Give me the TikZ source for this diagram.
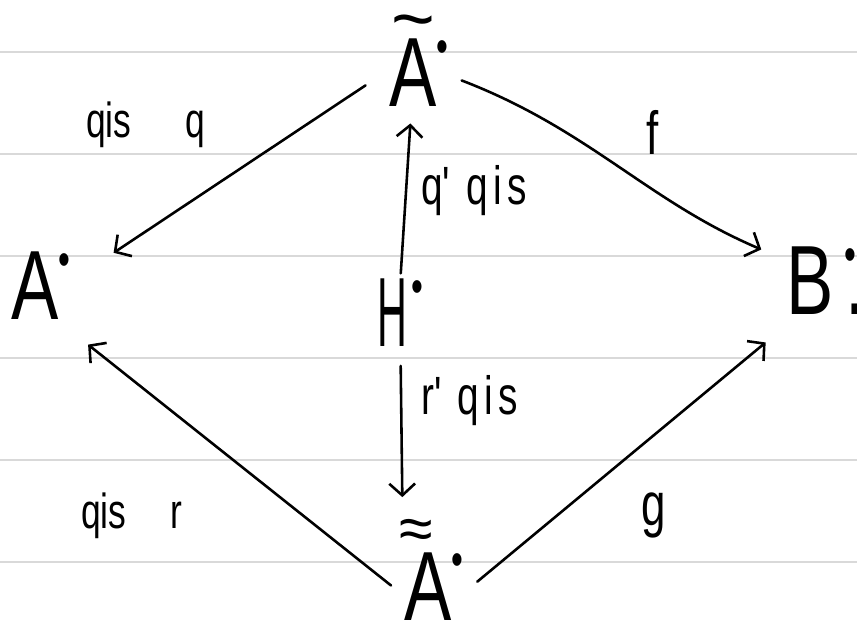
\documentclass[tikz,border=0pt]{standalone}
\usepackage{amsmath}
\usepackage{fontspec}
\setmainfont{Liberation Sans}
\newfontfamily\handbig[FakeStretch=0.72]{Liberation Sans}
\newfontfamily\handnarrow[FakeStretch=0.42]{Liberation Sans}
\usetikzlibrary{arrows.meta, positioning}

% small raised dot for the cochain complexes
\newcommand{\cochdot}{\raisebox{38pt}{\handbig\fontsize{40}{40}\selectfont\textbullet}}
% wide tilde and double tilde over a letter
\newcommand{\bigtilde}[1]{\ooalign{#1\cr\hidewidth\raisebox{53pt}{\rmfamily\fontsize{64}{64}\selectfont\char"7E}\hidewidth\cr}}
\newcommand{\dbltilde}[1]{\ooalign{#1\cr\hidewidth\raisebox{60pt}{\rmfamily\fontsize{52}{52}\selectfont\char"2248}\hspace{20pt}\hidewidth\cr}}

\begin{document}
\begin{tikzpicture}[>={Straight Barb[length=10pt,width=22pt]}, x=0.03cm, y=-0.03cm,
    line width=2.2pt, line cap=round,
    obj/.style={inner sep=0pt, anchor=base west, font=\handbig\fontsize{84}{90}\selectfont},
    lbl/.style={inner sep=0pt, anchor=base west, font=\handbig\fontsize{42}{46}\selectfont},
    paper/.style={line width=2pt, draw=black!15}]
    \useasboundingbox (0,0) rectangle (857,625);
    % lined paper
    \foreach \y in {52,154,256,358,460,562}
        \draw[paper] (0,\y) -- (857,\y);

    % complexes
    \node[obj] (top) at (388,107) {\bigtilde{A}\cochdot};
    \node[obj] (left) at (10,320) {A\cochdot};
    \node[obj] (right) at (785,315) {B\hspace{9pt}\cochdot\hspace{-9pt}.};
    \node[obj] (mid) at (376,347) {\handnarrow H\hspace{4pt}\cochdot};
    \node[obj] (bot) at (403,620) {\dbltilde{A}\cochdot};

    % maps
    \draw[->, shorten <=23pt, shorten >=43pt] (top.175) -- (left.10);
    \draw[->, shorten <=11pt, shorten >=22pt] (top.-5) to[out=-21, in=157] (right.152);
    \draw[->, shorten <=4pt, shorten >=13pt] (mid.north) -- (top.258);
    \draw[->, shorten <=15pt, shorten >=46pt] (mid.south) -- (bot.north west);
    \draw[->, shorten <=13pt, shorten >=32pt] (bot.196) -- (left.-63);
    \draw[->, shorten <=14pt, shorten >=35pt] (bot.-11) -- (right.231);

    % labels
    \node[lbl] (qisq) at (85,138) {qis\hspace{1.1em}q};
    \node[lbl, font=\handbig\fontsize{52}{56}\selectfont] (f) at (645,155) {f};
    \node[lbl, font=\handbig\fontsize{46}{50}\selectfont] (qqis) at (420,205) {q'\hspace{0.3em}q\hspace{0.1em}i\hspace{0.1em}s};
    \node[lbl, font=\handbig\fontsize{46}{50}\selectfont] (rqis) at (420,415) {r'\hspace{0.3em}q\hspace{0.1em}i\hspace{0.1em}s};
    \node[lbl] (qisr) at (80,528) {qis\hspace{0.9em}r};
    \node[lbl, font=\handbig\fontsize{52}{56}\selectfont] (g) at (640,525) {g};
\end{tikzpicture}
\end{document}
